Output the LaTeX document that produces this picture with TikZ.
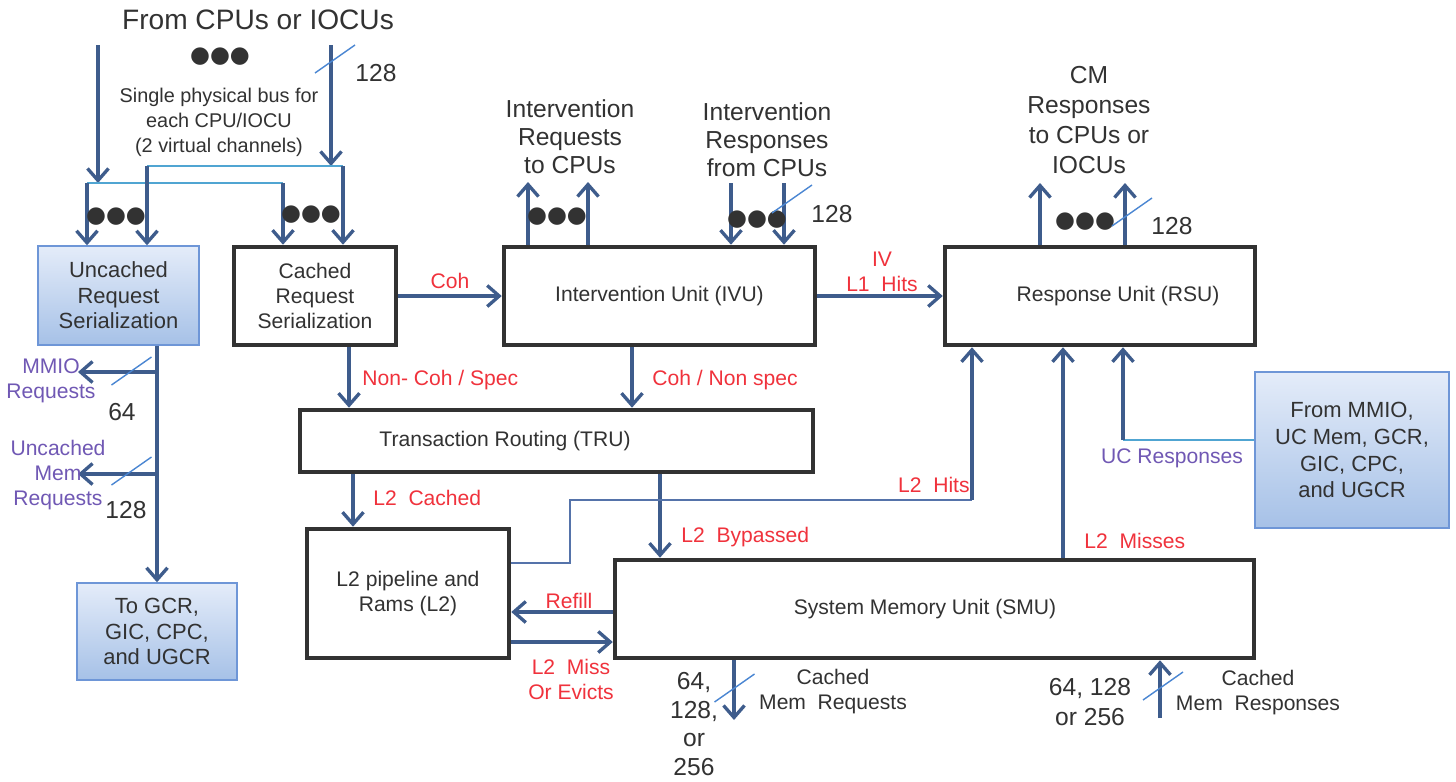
\documentclass[tikz,border=0pt]{standalone}
\usepackage{fontspec}
\setmainfont{Liberation Sans}
\newfontfamily\symfont{DejaVu Sans}
\usetikzlibrary{arrows.meta}
\definecolor{arrowblue}{RGB}{62,92,140}
\definecolor{busblue}{RGB}{80,165,210}
\definecolor{hitblue}{RGB}{85,115,170}
\definecolor{slashblue}{RGB}{74,134,210}
\definecolor{labred}{RGB}{240,50,60}
\definecolor{labpurple}{RGB}{112,88,180}
\definecolor{textgray}{RGB}{50,50,50}
\definecolor{boxgray}{RGB}{50,50,50}
\definecolor{srcedge}{RGB}{110,150,215}
\definecolor{srctop}{RGB}{228,236,249}
\definecolor{srcbot}{RGB}{166,193,231}
\tikzset{
  >={Straight Barb[length=2.4mm,width=4.2mm]},
  unit/.style={rectangle, draw=boxgray, line width=2.6pt, fill=white, align=center,
    text=textgray, font=\fontsize{12}{14.2}\selectfont, inner sep=0pt},
  src/.style={rectangle, draw=srcedge, line width=0.8pt, top color=srctop, bottom color=srcbot,
    align=center, text=textgray, font=\fontsize{12.5}{14.5}\selectfont, inner sep=0pt},
  boxlbl/.style={text=textgray, inner sep=0pt, font=\fontsize{12}{14.2}\selectfont},
  arr/.style={->, draw=arrowblue, line width=1.9pt},
  bus/.style={draw=busblue, line width=0.7pt},
  hitline/.style={draw=hitblue, line width=0.7pt},
  lbl/.style={text=textgray, align=center, inner sep=0pt, font=\fontsize{14}{15.9}\selectfont},
  num/.style={text=textgray, align=center, inner sep=0pt, font=\fontsize{14}{16.4}\selectfont},
  note/.style={text=textgray, align=center, inner sep=0pt, font=\fontsize{12}{14.2}\selectfont},
  red lbl/.style={text=labred, align=center, inner sep=0pt, font=\fontsize{12}{14.2}\selectfont},
  uc lbl/.style={text=labpurple, align=center, inner sep=0pt, font=\fontsize{12}{14.2}\selectfont},
  dots/.style={text=textgray, inner sep=0pt, font=\symfont\fontsize{13}{13}\selectfont},
  busw/.pic={\draw[draw=slashblue, line width=0.8pt] (-20,14) -- (20,-14);}
}
\begin{document}
\begin{tikzpicture}[x=0.02cm, y=-0.02cm]
    \path[fill=white, use as bounding box] (0,0) rectangle (1456,781);

    % Units
    \node[src, minimum width=3.22cm, minimum height=1.98cm] (ucs) at (118.5,295.5) {Uncached\\Request\\Serialization};
    \node[unit, minimum width=3.24cm, minimum height=1.96cm] (csr) at (315,296) {Cached\\Request\\Serialization};
    \node[unit, minimum width=6.22cm, minimum height=1.96cm] (ivu) at (659.5,296) {Intervention Unit (IVU)};
    \node[unit, minimum width=6.2cm, minimum height=1.96cm,
      label={[boxlbl, xshift=0.36cm]center:Response Unit (RSU)}] (rsu) at (1100,296) {};
    \node[unit, minimum width=10.26cm, minimum height=1.24cm,
      label={[boxlbl, xshift=-1.03cm]center:Transaction Routing (TRU)}] (tru) at (556.5,441) {};
    \node[unit, minimum width=4.04cm, minimum height=2.58cm] (l2) at (408,593.5) {L2 pipeline and\\Rams (L2)};
    \node[unit, minimum width=12.78cm, minimum height=1.96cm,
      label={[boxlbl, xshift=-0.19cm]center:System Memory Unit (SMU)}] (smu) at (934.5,609) {};
    \node[src, minimum width=3.2cm, minimum height=1.94cm] (gcr) at (157,631.5) {To GCR,\\GIC, CPC,\\and UGCR};
    \node[src, minimum width=3.88cm, minimum height=3.12cm, font=\fontsize{12.5}{15.3}\selectfont] (mmio) at (1352,450) {From MMIO,\\UC Mem, GCR,\\GIC, CPC,\\and UGCR};

    % Requests from CPUs or IOCUs
    \node[lbl, font=\fontsize{16}{18}\selectfont] (from) at (258,20) {From CPUs or IOCUs};
    \node[dots] (dtop) at (220,57) {●●●};
    \node[note, font=\fontsize{11.3}{14.2}\selectfont] (busnote) at (219,122) {Single physical bus for\\each CPU/IOCU\\(2 virtual channels)};
    \node[num] (wtop) at (376,73) {128};
    \coordinate (inL) at (98,45);   \coordinate (inLb) at (98,183);
    \coordinate (inR) at (331,45);  \coordinate (inRb) at (331,166);
    \coordinate (bl1) at (87,183);  \coordinate (bl2) at (283,183);
    \coordinate (br1) at (147,166); \coordinate (br2) at (343,166);
    \draw[arr] (inL) -- (inLb);
    \draw[arr] (inR) -- (inRb);
    \draw[bus] (bl1) -- (bl2);
    \draw[bus] (br1) -- (br2);
    \draw[arr] (bl1) -- (bl1 |- ucs.north);
    \draw[arr] (br1) -- (br1 |- ucs.north);
    \draw[arr] (bl2) -- (bl2 |- csr.north);
    \draw[arr] (br2) -- (br2 |- csr.north);
    \pic at (335,59) {busw};
    \node[dots] (duc) at (116,217) {●●●};
    \node[dots] (dcr) at (311,215) {●●●};

    % Uncached outputs
    \coordinate (mmJ) at (157,372); \coordinate (mmE) at (78,372);
    \coordinate (ueJ) at (157,474); \coordinate (ueE) at (78,474);
    \draw[arr] (ucs.south -| gcr.north) -- (gcr.north);
    \draw[arr] (mmJ) -- (mmE);
    \draw[arr] (ueJ) -- (ueE);
    \pic at (131.5,371) {busw};
    \pic at (131.5,471) {busw};
    \node[uc lbl] (mmreq) at (51,380.5) {MMIO\\Requests};
    \node[num] (w64) at (122,412) {64};
    \node[uc lbl] (ucreq) at (58,475) {Uncached\\Mem\\Requests};
    \node[num] (w128) at (126,510) {128};

    % Coherent path
    \draw[arr] (csr.east) -- (ivu.west);
    \node[red lbl] (coh) at (450,281) {Coh};
    \draw[arr] (ivu.east) -- (rsu.west);
    \node[red lbl] (l1hit) at (882,272) {IV\\L1~~Hits};

    % Intervention requests / responses
    \coordinate (rq1) at (528,182); \coordinate (rq2) at (588,182);
    \draw[arr] (rq1 |- ivu.north) -- (rq1);
    \draw[arr] (rq2 |- ivu.north) -- (rq2);
    \node[dots] (drq) at (557,217) {●●●};
    \node[lbl] (ivreq) at (570,137) {Intervention\\Requests\\to CPUs};
    \coordinate (rs1) at (731,183); \coordinate (rs2) at (784,183);
    \draw[arr] (rs1) -- (rs1 |- ivu.north);
    \draw[arr] (rs2) -- (rs2 |- ivu.north);
    \node[dots] (drs) at (757,220) {●●●};
    \pic at (792,199) {busw};
    \node[num] (wrs) at (832,214) {128};
    \node[lbl] (ivrsp) at (767,140) {Intervention\\Responses\\from CPUs};

    % CM responses
    \coordinate (cm1) at (1040,183); \coordinate (cm2) at (1125,183);
    \draw[arr] (cm1 |- rsu.north) -- (cm1);
    \draw[arr] (cm2 |- rsu.north) -- (cm2);
    \node[dots] (dcm) at (1085,222) {●●●};
    \pic at (1132,212) {busw};
    \node[num] (wcm) at (1172,226) {128};
    \node[lbl, font=\fontsize{14}{17}\selectfont] (cmrsp) at (1089,120) {CM\\Responses\\to CPUs or\\IOCUs};

    % Routing
    \draw[arr] (csr.south -| 349,0) -- (tru.north -| 349,0);
    \node[red lbl, anchor=west] (ncs) at (362,380) {Non- Coh / Spec};
    \draw[arr] (ivu.south -| 632,0) -- (tru.north -| 632,0);
    \node[red lbl, anchor=west] (cns) at (652,380) {Coh / Non spec};
    \draw[arr] (tru.south -| 353,0) -- (l2.north -| 353,0);
    \node[red lbl, anchor=west] (l2c) at (373,498) {L2~~Cached};
    \draw[arr] (tru.south -| 660,0) -- (smu.north -| 660,0);
    \node[red lbl, anchor=west] (l2b) at (681,537) {L2~~Bypassed};

    % L2 and SMU
    \draw[arr] (smu.west |- 0,612) -- (l2.east |- 0,612);
    \node[red lbl] (refill) at (569,601) {Refill};
    \draw[arr] (l2.east |- 0,642) -- (smu.west |- 0,642);
    \node[red lbl] (l2m) at (571,679) {L2~~Miss\\Or Evicts};
    \coordinate (hitA) at (570,563); \coordinate (hitB) at (570,500); \coordinate (hitC) at (972,500);
    \draw[hitline] (l2.east |- hitA) -- (hitA) -- (hitB) -- (hitC);
    \draw[arr] (hitC) -- (hitC |- rsu.south);
    \node[red lbl, anchor=east] (l2h) at (970,485) {L2~~Hits};
    \draw[arr] (smu.north -| 1063,0) -- (rsu.south -| 1063,0);
    \node[red lbl, anchor=west] (l2ms) at (1084,541) {L2~~Misses};

    % Uncached responses
    \coordinate (ucj) at (1123,440);
    \draw[bus] (mmio.west |- ucj) -- (ucj);
    \draw[arr] (ucj) -- (ucj |- rsu.south);
    \node[uc lbl] (ucrsp) at (1172,458) {UC Responses};

    % Memory side
    \coordinate (mq) at (734,720);
    \draw[arr] (mq |- smu.south) -- (mq);
    \pic at (734.5,688) {busw};
    \node[num] (wmq) at (694,724) {64,\\128,\\or\\256};
    \node[note] (cmq) at (833,692) {Cached\\Mem~~Requests};
    \coordinate (mr) at (1160,718);
    \draw[arr] (mr) -- (mr |- smu.south);
    \pic at (1163,686) {busw};
    \node[num, font=\fontsize{14}{17}\selectfont] (wmr) at (1090,702) {64, 128\\or 256};
    \node[note] (cmr) at (1258,693) {Cached\\Mem~~Responses};
\end{tikzpicture}
\end{document}
